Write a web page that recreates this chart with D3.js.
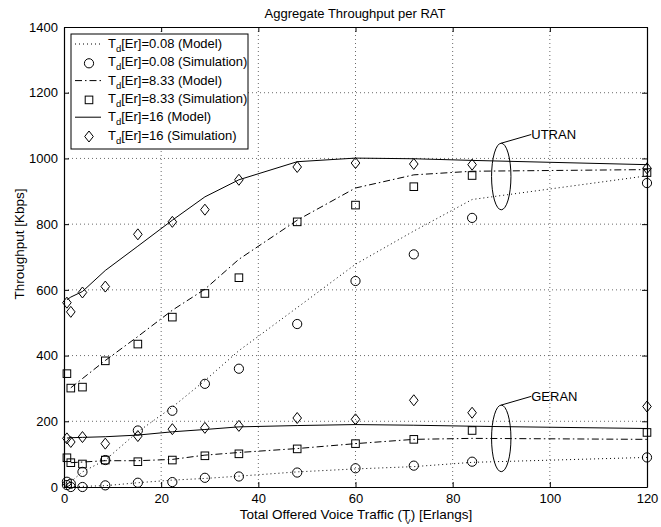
<!DOCTYPE html>
<meta charset="utf-8">
<style>
  body { margin: 0; background: #fff; }
  svg { position: absolute; top: 0; left: 0; }
  text { font-family: 'Liberation Sans', Arial, sans-serif; fill: #000; }
  .grid line { stroke: #444; stroke-width: 0.8; stroke-dasharray: 1,3; }
</style>
<script src="https://d3js.org/d3.v7.min.js"></script>
<svg width="661" height="527"></svg>
<script>
  // traffic points (Erlangs)
  var traffic = [0.6, 1.4, 3.8, 8.5, 15.2, 22.3, 29, 36, 48, 60, 72, 84, 120];

  // UTRAN throughput
  var utranModel008 = [10, 16, 46, 82, 168, 243, 324, 415, 546, 678, 779, 875, 947];
  var utranSim008   = [16, 10, 46, 82, 172, 232, 314, 360, 496, 627, 708, 819, 925];
  var utranModel833 = [null, 302, 330, 385, 458, 538, 602, 693, 812, 910, 950, 961, 966];
  var utranSim833   = [345, 301, 304, 384, 435, 517, 589, 637, 807, 858, 914, 948, 957];
  var utranModel16  = [570, 578, 595, 659, 733, 812, 883, 935, 990, 1001, 999, 994, 981];
  var utranSim16    = [561, 533, 592, 610, 769, 807, 844, 935, 974, 986, 983, 981, 970];

  // GERAN throughput
  var geranModel008 = [0, 1, 2, 4, 13, 21, 26, 33, 46, 55, 62, 75, 90];
  var geranSim008   = [6, 0, 0, 5, 13, 15, 28, 32, 44, 57, 65, 77, 90];
  var geranModel833 = [null, 74, 76, 80, 80, 84, 97, 105, 117, 132, 145, 148, 145];
  var geranSim833   = [89, 74, 70, 82, 77, 82, 95, 101, 116, 132, 145, 172, 166];
  var geranModel16  = [149, 150, 151, 153, 158, 168, 175, 183, 187, 190, 188, 185, 178];
  var geranSim16    = [148, 137, 152, 132, 155, 176, 180, 186, 210, 206, 264, 226, 245];

  var xTicks = [0, 20, 40, 60, 80, 100, 120];
  var yTicks = [0, 200, 400, 600, 800, 1000, 1200, 1400];

  var legendLabels = ["0.08 (Model)", "0.08 (Simulation)", "8.33 (Model)",
                      "8.33 (Simulation)", "16 (Model)", "16 (Simulation)"];

  // annotation: name, centre throughput (centre traffic shared)
  var groupNames = ["UTRAN", "GERAN"];
  var groupCentreY = [945, 148];
  var groupCentreX = 90;

  var svg = d3.select("svg");
  var pLeft = 64, pRight = 647, pTop = 27, pBottom = 487;

  var x = d3.scaleLinear().domain([0, 120]).range([pLeft, pRight]);
  var y = d3.scaleLinear().domain([0, 1400]).range([pBottom, pTop]);

  // grid
  var grid = svg.append("g").attr("class", "grid");
  grid.selectAll(".gx").data(xTicks.slice(1, -1)).enter().append("line")
    .attr("x1", d => x(d)).attr("x2", d => x(d)).attr("y1", pTop).attr("y2", pBottom);
  grid.selectAll(".gy").data(yTicks.slice(1, -1)).enter().append("line")
    .attr("x1", pLeft).attr("x2", pRight).attr("y1", d => y(d)).attr("y2", d => y(d));

  // axes with inward ticks
  var axB = svg.append("g").attr("transform", "translate(0," + pBottom + ")")
    .call(d3.axisBottom(x).tickValues(xTicks).tickSizeInner(-5).tickSizeOuter(0).tickPadding(7));
  var axL = svg.append("g").attr("transform", "translate(" + pLeft + ",0)")
    .call(d3.axisLeft(y).tickValues(yTicks).tickSizeInner(-5).tickSizeOuter(0).tickPadding(6).tickFormat(d3.format("d")));
  var axT = svg.append("g").attr("transform", "translate(0," + pTop + ")")
    .call(d3.axisTop(x).tickValues(xTicks).tickSizeInner(-5).tickSizeOuter(0).tickFormat(""));
  var axR = svg.append("g").attr("transform", "translate(" + pRight + ",0)")
    .call(d3.axisRight(y).tickValues(yTicks).tickSizeInner(-5).tickSizeOuter(0).tickFormat(""));
  [axB, axL, axT, axR].forEach(function(a) {
    a.selectAll("path").attr("stroke", "#000").attr("stroke-width", 1.2);
    a.selectAll("line").attr("stroke", "#000");
    a.selectAll("text")
      .attr("font-family", "'Liberation Sans', Arial, sans-serif").attr("font-size", 13).attr("fill", "#000");
  });

  var styles = {
    "0.08": "1,3",
    "8.33": "7,3,1.5,3",
    "16": null
  };

  var line = d3.line()
    .defined(d => d[1] != null)
    .x(d => x(d[0])).y(d => y(d[1]));

  function zipT(vals) { return traffic.map((t, i) => [t, vals[i]]); }

  function drawModel(vals, dash) {
    svg.append("path").datum(zipT(vals))
      .attr("d", line).attr("fill", "none").attr("stroke", "#000")
      .attr("stroke-width", 1)
      .attr("stroke-dasharray", dash);
  }

  function marker(sel, kind) {
    if (kind === "circle") {
      sel.append("circle").attr("r", 4.6);
    } else if (kind === "square") {
      sel.append("rect").attr("x", -3.8).attr("y", -3.8).attr("width", 7.6).attr("height", 7.6);
    } else {
      sel.append("path").attr("d", "M0,-5.5L4.3,0L0,5.5L-4.3,0Z");
    }
    sel.selectAll("circle,rect,path").attr("fill", "none").attr("stroke", "#000").attr("stroke-width", 1);
  }

  function drawSim(vals, kind) {
    svg.append("g").selectAll("g").data(zipT(vals)).enter().append("g")
      .attr("transform", d => "translate(" + x(d[0]) + "," + y(d[1]) + ")")
      .each(function() { marker(d3.select(this), kind); });
  }

  drawModel(utranModel008, styles["0.08"]);
  drawModel(utranModel833, styles["8.33"]);
  drawModel(utranModel16, styles["16"]);
  drawModel(geranModel008, styles["0.08"]);
  drawModel(geranModel833, styles["8.33"]);
  drawModel(geranModel16, styles["16"]);

  drawSim(utranSim008, "circle");
  drawSim(utranSim833, "square");
  drawSim(utranSim16, "diamond");
  drawSim(geranSim008, "circle");
  drawSim(geranSim833, "square");
  drawSim(geranSim16, "diamond");

  // annotations
  groupNames.forEach(function(name, i) {
    var cx = x(groupCentreX), cy = y(groupCentreY[i]);
    svg.append("ellipse").attr("cx", cx).attr("cy", cy).attr("rx", 9.7).attr("ry", 33.3)
      .attr("fill", "none").attr("stroke", "#000").attr("stroke-width", 1);
    svg.append("line").attr("x1", cx).attr("y1", cy - 33.3).attr("x2", cx + 30).attr("y2", cy - 42)
      .attr("stroke", "#000").attr("stroke-width", 1);
    svg.append("text").attr("x", cx + 30).attr("y", cy - 37.5)
      .attr("font-size", 13).text(name);
  });

  // legend
  var lg = svg.append("g");
  lg.append("rect").attr("x", 71).attr("y", 34).attr("width", 177).attr("height", 115)
    .attr("fill", "#fff").attr("stroke", "#000").attr("stroke-width", 1);
  var kinds = ["model", "circle", "model", "square", "model", "diamond"];
  var dashes = [styles["0.08"], null, styles["8.33"], null, styles["16"], null];
  legendLabels.forEach(function(lab, i) {
    var ly = 44 + i * 18.3;
    if (kinds[i] === "model") {
      lg.append("line").attr("x1", 75).attr("x2", 101).attr("y1", ly).attr("y2", ly)
        .attr("stroke", "#000").attr("stroke-width", 1).attr("stroke-dasharray", dashes[i]);
    } else {
      var m = lg.append("g").attr("transform", "translate(89," + (ly + 1) + ")");
      marker(m, kinds[i]);
    }
    var t = lg.append("text").attr("x", 108).attr("y", ly + 4).attr("font-size", 13);
    t.append("tspan").text("T");
    t.append("tspan").attr("font-size", 9.5).attr("dy", 4).text("d");
    t.append("tspan").attr("dy", -4).text("[Er]=" + lab);
  });

  // titles
  svg.append("text").attr("x", 355).attr("y", 18).attr("text-anchor", "middle")
    .attr("font-size", 13).text("Aggregate Throughput per RAT");

  svg.append("text").attr("transform", "translate(24,244) rotate(-90)")
    .attr("text-anchor", "middle").attr("font-size", 13.5).text("Throughput [Kbps]");

  var xl = svg.append("text").attr("x", 356).attr("y", 519).attr("text-anchor", "middle")
    .attr("font-size", 13.5);
  xl.append("tspan").text("Total Offered Voice Traffic (T");
  xl.append("tspan").attr("font-size", 8).attr("dx", -5).attr("dy", 5).text("V");
  xl.append("tspan").attr("dy", -5).text(") [Erlangs]");
</script>
